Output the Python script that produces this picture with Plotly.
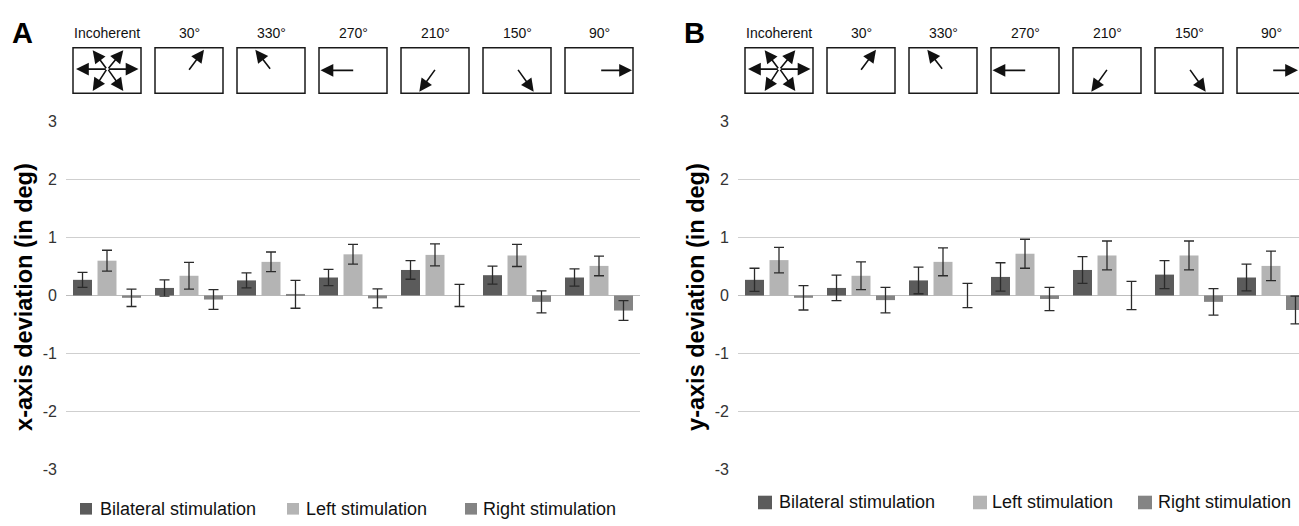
import plotly.graph_objects as go

# ---------------- data ----------------
categories = ["Incoherent", "30°", "330°", "270°", "210°", "150°", "90°"]
series_names = ["Bilateral stimulation", "Left stimulation", "Right stimulation"]

# Panel A : x-axis deviation (deg)
bilateral_x = [0.27, 0.13, 0.26, 0.31, 0.44, 0.35, 0.31]
bilateral_x_err = [0.13, 0.14, 0.13, 0.14, 0.16, 0.155, 0.15]
left_x = [0.60, 0.34, 0.58, 0.71, 0.70, 0.69, 0.51]
left_x_err = [0.18, 0.23, 0.17, 0.17, 0.19, 0.19, 0.17]
right_x = [-0.04, -0.07, 0.02, -0.05, 0.0, -0.11, -0.26]
right_x_err = [0.15, 0.17, 0.24, 0.165, 0.19, 0.19, 0.17]

# Panel B : y-axis deviation (deg)
bilateral_y = [0.27, 0.13, 0.26, 0.32, 0.44, 0.36, 0.31]
bilateral_y_err = [0.20, 0.22, 0.23, 0.245, 0.23, 0.24, 0.23]
left_y = [0.61, 0.34, 0.58, 0.72, 0.69, 0.69, 0.51]
left_y_err = [0.22, 0.24, 0.24, 0.25, 0.25, 0.25, 0.255]
right_y = [-0.04, -0.08, 0.0, -0.06, 0.0, -0.11, -0.25]
right_y_err = [0.21, 0.22, 0.21, 0.20, 0.245, 0.23, 0.24]

y_tickvals = [3, 2, 1, 0, -1, -2, -3]
y_ticktext = ["3", "2", "1", "0", "-1", "-2", "-3"]

# ---------------- style ----------------
W, H = 1299, 526
FONT = "Arial, Liberation Sans, sans-serif"
colors = ["#5b5b5b", "#b4b4b4", "#848484"]
err_color = "#2b2b2b"
PANEL_X0 = [66, 738]          # left edge of each plot area (px)
CAT_W = 82                    # px per category
Y_TOP, Y_BOT = 116.5, 476.5   # px of y = +3.01 / -3.01

fig = go.Figure()

panels = [
    ("x", "y", [bilateral_x, left_x, right_x], [bilateral_x_err, left_x_err, right_x_err]),
    ("x2", "y2", [bilateral_y, left_y, right_y], [bilateral_y_err, left_y_err, right_y_err]),
]
for xa, ya, vals, errs in panels:
    for name, v, e, c in zip(series_names, vals, errs, colors):
        fig.add_trace(go.Bar(
            x=categories, y=v, name=name, xaxis=xa, yaxis=ya,
            marker=dict(color=c, line=dict(width=0)),
            error_y=dict(type="data", array=e, color=err_color, thickness=1.3, width=5),
            showlegend=False,
        ))

ydom = [1 - Y_BOT / H, 1 - Y_TOP / H]
yax = dict(range=[-3.01, 3.01], domain=ydom, tickvals=y_tickvals, ticktext=y_ticktext,
           showgrid=True, gridcolor="#cfcfcf", gridwidth=1,
           zeroline=True, zerolinecolor="#bdbdbd", zerolinewidth=1,
           showline=False, ticks="", ticklabelstandoff=8,
           tickfont=dict(family=FONT, size=16, color="#333333"), fixedrange=True)
xax_common = dict(showgrid=False, zeroline=False, showline=False, showticklabels=False,
                  ticks="", type="category", fixedrange=True)

fig.update_layout(
    width=W, height=H,
    margin=dict(l=0, r=0, t=0, b=0),
    paper_bgcolor="white", plot_bgcolor="white",
    barmode="group", bargap=0.104, bargroupgap=0.224,
    xaxis=dict(domain=[PANEL_X0[0] / W, (PANEL_X0[0] + 7 * CAT_W) / W], range=[-0.5, 6.5],
               anchor="y", **xax_common),
    xaxis2=dict(domain=[PANEL_X0[1] / W, 1.0], range=[-0.5, -0.5 + (W - PANEL_X0[1]) / CAT_W],
                anchor="y2", **xax_common),
    yaxis=dict(anchor="x", **yax),
    yaxis2=dict(anchor="x2", **yax),
    font=dict(family=FONT, color="#222222"),
)

annotations = []
shapes = []

def px(xp):
    return xp / W

def py(yp):
    return 1 - yp / H

# arrow geometry inside a 68x47 box: (tail_x, tail_y, head_x, head_y) relative to box top-left
arrow_sets = [
    [(34.3, 22, 3, 22), (34.3, 22, 65.5, 22), (34.3, 22, 19.7, 2.5), (34.3, 22, 50.3, 2.5),
     (34.3, 22, 19.7, 44.5), (34.3, 22, 50.3, 44.5)],
    [(33, 23.6, 49, 2)],
    [(34.3, 22.6, 18.3, 2)],
    [(35.7, 23.3, 1.5, 23.3)],
    [(35, 22, 18.3, 45.3)],
    [(34, 22, 50.7, 45.3)],
    [(34.7, 23.3, 67, 23.3)],
]
BOX_W, BOX_H, BOX_TOP = 68, 47, 41

titles = ["x-axis deviation (in deg)", "y-axis deviation (in deg)"]
letters = ["A", "B"]
legend_swatch_x = [[80, 287, 465], [758, 973, 1138]]
legend_text_x = [[98, 304, 481], [777, 990, 1156]]
legend_y = [516.5, 510]

for p, x0 in enumerate(PANEL_X0):
    off = x0 - PANEL_X0[0]
    # panel letter
    annotations.append(dict(text="<b>%s</b>" % letters[p], x=px(22.5 + off), y=py(26), xref="paper",
                            yref="paper", showarrow=False, font=dict(family=FONT, size=29, color="black"),
                            xanchor="center", yanchor="middle"))
    # axis title
    annotations.append(dict(text="<b>%s</b>" % titles[p], x=px(24 + off), y=py(298), xref="paper",
                            yref="paper", showarrow=False, textangle=-90,
                            font=dict(family=FONT, size=23.5, color="black"),
                            xanchor="center", yanchor="middle"))
    for i, cat in enumerate(categories):
        cx = x0 + CAT_W / 2 + CAT_W * i
        annotations.append(dict(text=cat, x=px(cx), y=py(26), xref="paper", yref="paper",
                                showarrow=False, font=dict(family=FONT, size=14, color="#111111"),
                                xanchor="center", yanchor="middle"))
        bx0 = cx - BOX_W / 2
        shapes.append(dict(type="rect", xref="paper", yref="paper",
                           x0=px(bx0), x1=px(bx0 + BOX_W), y0=py(BOX_TOP + BOX_H), y1=py(BOX_TOP),
                           line=dict(color="#1a1a1a", width=1.5), fillcolor="rgba(0,0,0,0)"))
        for tx, ty, hx, hy in arrow_sets[i]:
            annotations.append(dict(text="", x=px(bx0 + hx), y=py(BOX_TOP + hy), xref="paper",
                                    yref="paper", showarrow=True, ax=tx - hx, ay=ty - hy,
                                    arrowhead=2, arrowsize=1.6, arrowwidth=1.6,
                                    arrowcolor="#111111", standoff=0, startstandoff=0))
    # manual legend
    sw = 12 if p == 0 else 14
    for name, c, sx, tx in zip(series_names, colors, legend_swatch_x[p], legend_text_x[p]):
        ly = legend_y[p]
        shapes.append(dict(type="rect", xref="paper", yref="paper",
                           x0=px(sx), x1=px(sx + sw), y0=py(ly + sw / 2), y1=py(ly - sw / 2),
                           line=dict(width=0), fillcolor=c))
        annotations.append(dict(text=name, x=px(tx), y=py(ly), xref="paper", yref="paper",
                                showarrow=False, font=dict(family=FONT, size=18, color="#111111"),
                                xanchor="left", yanchor="middle"))

fig.update_layout(annotations=annotations, shapes=shapes)
fig.write_html("out.html")
